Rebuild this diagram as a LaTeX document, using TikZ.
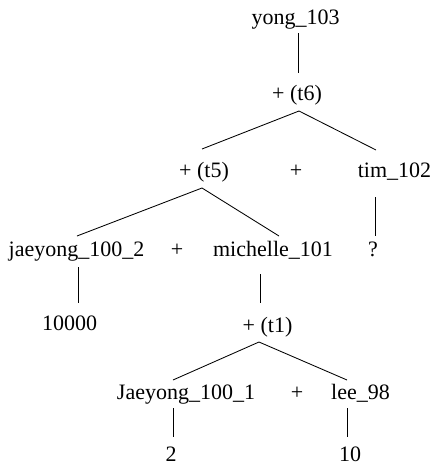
\documentclass[tikz,border=0pt]{standalone}
\usepackage{fontspec}
\setmainfont{Liberation Serif}
\begin{document}
\begin{tikzpicture}[x=1pt,y=-1pt,
  lbl/.style={inner sep=0pt,anchor=base,font=\fontsize{22}{26}\selectfont},
  edge/.style={draw=black,line width=0.85pt}]
\useasboundingbox (0,0) rectangle (432,466);
% labels
\node[lbl] (yong)  at (295.5,24) {yong\_103};
\node[lbl] (t6)    at (297,100)  {+ (t6)};
\node[lbl] (t5)    at (204,177)  {+ (t5)};
\node[lbl] (plusA) at (296,177)  {+};
\node[lbl] (tim)   at (394.5,177) {tim\_102};
\node[lbl] (jae2)  at (76.5,256) {jaeyong\_100\_2};
\node[lbl] (plusB) at (177,256)  {+};
\node[lbl] (mich)  at (273,256)  {michelle\_101};
\node[lbl] (q)     at (373,256)  {?};
\node[lbl] (v10k)  at (69.5,330) {10000};
\node[lbl] (t1)    at (267.5,332) {+ (t1)};
\node[lbl] (jae1)  at (186,399)  {Jaeyong\_100\_1};
\node[lbl] (plusC) at (297,399)  {+};
\node[lbl] (lee)   at (360.5,399) {lee\_98};
\node[lbl] (v2)    at (171,461)  {2};
\node[lbl] (v10)   at (350,461)  {10};
% attachment points of the connectors
\coordinate (yong-b) at (298,33);
\coordinate (t6-t)   at (298,73);
\coordinate (t6-b)   at (299,111);
\coordinate (t5-t)   at (202,149);
\coordinate (tim-t)  at (376,150);
\coordinate (tim-b)  at (375,197);
\coordinate (q-t)    at (375,236);
\coordinate (t5-b)   at (202,188);
\coordinate (jae2-t) at (77,236);
\coordinate (mich-t) at (279,236);
\coordinate (jae2-b) at (78,267);
\coordinate (v10k-t) at (78,303);
\coordinate (mich-b) at (260,274);
\coordinate (t1-t)   at (260,303);
\coordinate (t1-b)   at (259,342);
\coordinate (jae1-t) at (173,380);
\coordinate (lee-t)  at (347,380);
\coordinate (jae1-b) at (173,408);
\coordinate (v2-t)   at (173,437);
\coordinate (lee-b)  at (347,408);
\coordinate (v10-t)  at (347,437);
% connectors
\path[edge] (yong-b) -- (t6-t);
\path[edge] (t5-t) -- (t6-b) -- (tim-t);
\path[edge] (tim-b) -- (q-t);
\path[edge] (jae2-t) -- (t5-b) -- (mich-t);
\path[edge] (jae2-b) -- (v10k-t);
\path[edge] (mich-b) -- (t1-t);
\path[edge] (jae1-t) -- (t1-b) -- (lee-t);
\path[edge] (jae1-b) -- (v2-t);
\path[edge] (lee-b) -- (v10-t);
\end{tikzpicture}
\end{document}
